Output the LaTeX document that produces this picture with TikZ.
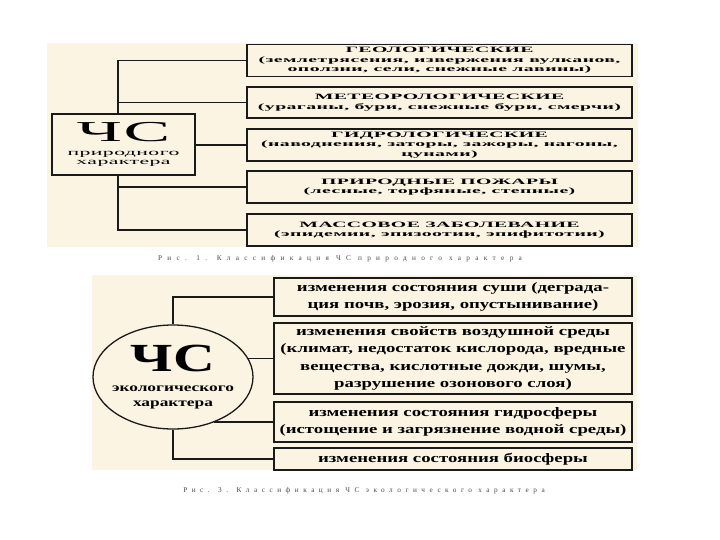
\documentclass[tikz,border=0pt]{standalone}
\usepackage{fontspec}
\setmainfont{Liberation Serif}
\newfontfamily\topfont[FakeStretch=2.42, LetterSpace=5]{Liberation Serif}
\newfontfamily\lowfont[FakeStretch=1.45]{Liberation Serif}
\newfontfamily\capfont[LetterSpace=62]{Liberation Serif}
\usetikzlibrary{shapes.geometric}
\definecolor{ccream}{HTML}{FBF4E2}
\definecolor{cink}{HTML}{1A1A1A}
\definecolor{ccap}{HTML}{4A4A4A}
\tikzset{
  every picture/.style={line width=1.2pt},
  panel/.style={fill=ccream},
  catbox/.style={draw=cink, fill=ccream, line width=1.6pt, align=center, inner sep=0pt},
  topbox/.style={catbox, minimum width=385bp, font=\topfont\bfseries\fontsize{8.2}{9.5}\selectfont},
  lowbox/.style={catbox, minimum width=358bp, font=\lowfont\bfseries\fontsize{13}{17.5}\selectfont},
  link/.style={draw=cink, line width=1.3pt},
  caption/.style={font=\capfont\fontsize{7.3}{8}\selectfont, text=ccap},
}
\begin{document}
\begin{tikzpicture}[x=1bp, y=-1bp]
  \useasboundingbox[fill=white] (0,0) rectangle (720,540);
  % natural emergencies
  \fill[panel] (47,43) rectangle (638,247);
  \node[topbox, minimum height=32bp] (geo) at (439.5,60.5) {ГЕОЛОГИЧЕСКИЕ\\(землетрясения, извержения вулканов,\\оползни, сели, снежные лавины)};
  \node[topbox, minimum height=31bp] (met) at (439.5,102.5) {МЕТЕОРОЛОГИЧЕСКИЕ\\(ураганы, бури, снежные бури, смерчи)};
  \node[topbox, minimum height=32bp] (hyd) at (439.5,145) {ГИДРОЛОГИЧЕСКИЕ\\(наводнения, заторы, зажоры, нагоны,\\цунами)};
  \node[topbox, minimum height=32bp] (fir) at (439.5,187) {ПРИРОДНЫЕ ПОЖАРЫ\\(лесные, торфяные, степные)};
  \node[topbox, minimum height=32bp] (mas) at (439.5,230) {МАССОВОЕ ЗАБОЛЕВАНИЕ\\(эпидемии, эпизоотии, эпифитотии)};
  \node[catbox, minimum width=143bp, minimum height=61bp, font=\topfont\fontsize{9}{9.5}\selectfont] (nat) at (123.5,144.5)
    {{\fontsize{29}{30}\selectfont ЧС}\\[4pt]природного\\характера};
  \coordinate (tk) at (118,144.5);
  \draw[link] (geo.west) -| (tk |- nat.north);
  \draw[link] (met.west) -- (met.west -| tk);
  \draw[link] (hyd.west -| nat.east) -- (hyd.west);
  \draw[link] (fir.west) -- (fir.west -| tk);
  \draw[link] (mas.west) -| (tk |- nat.south);
  \node[caption] (cap1) at (340,259) {\addfontfeature{LetterSpace=73}Рис. 1. Классификация ЧС природного характера};
  % ecological emergencies
  \fill[panel] (92,275) rectangle (637,470);
  \node[lowbox, minimum height=38bp] (soil) at (453,297) {изменения состояния суши (деграда-\\ция почв, эрозия, опустынивание)};
  \node[lowbox, minimum height=71bp] (air) at (453,358.5) {изменения свойств воздушной среды\\(климат, недостаток кислорода, вредные\\вещества, кислотные дожди, шумы,\\разрушение озонового слоя)};
  \node[lowbox, minimum height=40bp] (hy2) at (453,422) {изменения состояния гидросферы\\(истощение и загрязнение водной среды)};
  \node[lowbox, minimum height=22bp] (bio) at (453,459) {изменения состояния биосферы};
  \node[ellipse, draw=cink, fill=ccream, line width=1.3pt, minimum width=160bp, minimum height=104bp, inner xsep=-10bp, inner ysep=-6bp,
    align=center, font=\lowfont\bfseries\fontsize{12}{15}\selectfont] (eco) at (173,377)
    {{\fontsize{40}{36}\selectfont ЧС}\\[5pt]экологического\\характера};
  \draw[link] (soil.west) -| (eco.north);
  \draw[link] (air.west) -- (air.west -| eco.14.3);
  \draw[link] (hy2.west) -- (hy2.west -| eco.-48.4);
  \draw[link] (bio.west) -| (eco.south);
  \node[caption] (cap2) at (364,491) {Рис. 3. Классификация ЧС экологического характера};
\end{tikzpicture}
\end{document}
